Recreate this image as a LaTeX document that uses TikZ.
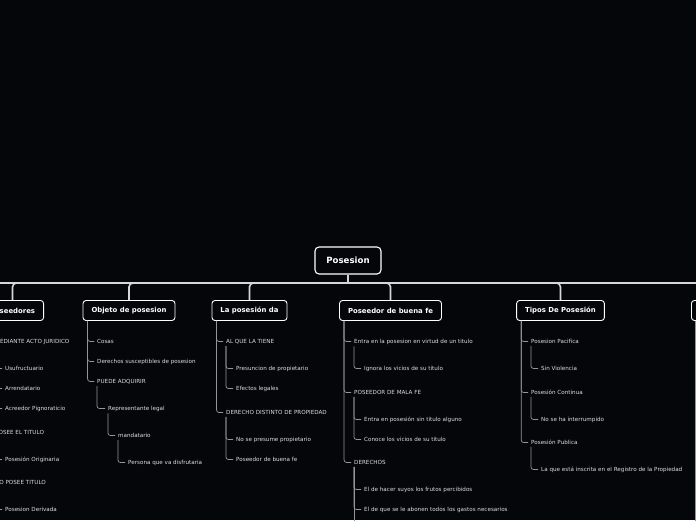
\documentclass[tikz,border=0pt]{standalone}
\usepackage{fontspec}
\setmainfont{DejaVu Sans}
\usetikzlibrary{calc,positioning}
\definecolor{mmbg}{RGB}{5,6,9}
\definecolor{mmtrunk}{RGB}{215,215,215}
\definecolor{mmtwig}{RGB}{150,150,150}
\definecolor{mmtext}{RGB}{222,222,222}

\begin{document}
\begin{tikzpicture}[x=1pt,y=-1pt,
  rootbox/.style={draw=white,fill=mmbg,line width=1.1pt,rounded corners=4pt,text=white,
    font=\fontsize{8.6}{10}\selectfont\bfseries,minimum width=66pt,minimum height=27pt,inner sep=0pt},
  topic/.style={draw=white,fill=mmbg,line width=0.9pt,rounded corners=3pt,text=white,
    font=\fontsize{6.9}{8}\selectfont\bfseries,minimum height=20pt,inner xsep=8.5pt,inner ysep=0pt},
  leaf/.style={anchor=west,inner sep=1pt,text=mmtext,font=\fontsize{5.62}{6.5}\selectfont},
  trunk/.style={draw=mmtrunk,line width=1.6pt,rounded corners=4pt},
  twig/.style={draw=mmtwig,line width=0.7pt,rounded corners=2.5pt,shorten >=2pt}
]
  \useasboundingbox (0,0) rectangle (696,520);
  \fill[mmbg] (0,0) rectangle (696,520);
  \clip (0,0) rectangle (696,520);

  % Main topic and branches
  \node[rootbox] (pos) at (348,260.5) {Posesion};
  \node[topic] (poseed) at (12.5,310.5) {Poseedores};
  \node[topic] (objeto) at (129,310.5) {Objeto de posesion};
  \node[topic] (lapos) at (249.5,310.5) {La posesión da};
  \node[topic] (buena) at (390.5,310.5) {Poseedor de buena fe};
  \node[topic] (tipos) at (560.5,310.5) {Tipos De Posesión};
  \node[topic,anchor=west,minimum width=70pt] (extra) at (691,310.5) {};

  % Poseedores
  \node[leaf] (poseed1) at (-6,341.5) {MEDIANTE ACTO JURIDICO};
  \node[leaf] (poseed11) at (4,368.5) {Usufructuario};
  \node[leaf] (poseed12) at (4,388.5) {Arrendatario};
  \node[leaf] (poseed13) at (4,408.5) {Acreedor Pignoraticio};
  \node[leaf] (poseed2) at (-6,432.5) {POSEE EL TITULO};
  \node[leaf] (poseed21) at (4,459.5) {Posesión Originaria};
  \node[leaf] (poseed3) at (-6,482.5) {NO POSEE TITULO};
  \node[leaf] (poseed31) at (4,509.5) {Posesion Derivada};

  % Objeto de posesion
  \node[leaf] (objeto1) at (96,341.5) {Cosas};
  \node[leaf] (objeto2) at (96,361.5) {Derechos susceptibles de posesion};
  \node[leaf] (objeto3) at (96,381.5) {PUEDE ADQUIRIR};
  \node[leaf] (objeto31) at (107,408.5) {Representante legal};
  \node[leaf] (objeto311) at (117,435.5) {mandatario};
  \node[leaf] (objeto3111) at (127,462.5) {Persona que va disfrutaria};

  % La posesion da
  \node[leaf] (lapos1) at (225,341.5) {AL QUE LA TIENE};
  \node[leaf] (lapos11) at (235,368.5) {Presuncion de propietario};
  \node[leaf] (lapos12) at (235,388.5) {Efectos legales};
  \node[leaf] (lapos2) at (225,412.5) {DERECHO DISTINTO DE PROPIEDAD};
  \node[leaf] (lapos21) at (235,439.5) {No se presume propietario};
  \node[leaf] (lapos22) at (235,459.5) {Poseedor de buena fe};

  % Poseedor de buena fe
  \node[leaf] (buena1) at (353,341.5) {Entra en la posesion en virtud de un titulo};
  \node[leaf] (buena11) at (363,368.5) {Ignora los vicios de su titulo};
  \node[leaf] (buena2) at (353,392.5) {POSEEDOR DE MALA FE};
  \node[leaf] (buena21) at (363,419.5) {Entra en posesión sin titulo alguno};
  \node[leaf] (buena22) at (363,439.5) {Conoce los vicios de su titulo};
  \node[leaf] (buena3) at (353,462.5) {DERECHOS};
  \node[leaf] (buena31) at (363,489.5) {El de hacer suyos los frutos percibidos};
  \node[leaf] (buena32) at (363,509.5) {El de que se le abonen todos los gastos necesarios};

  % Tipos de posesion
  \node[leaf] (tipos1) at (530,341.5) {Posesion Pacifica};
  \node[leaf] (tipos11) at (540,368.5) {Sin Violencia};
  \node[leaf] (tipos2) at (530,392.5) {Posesión Continua};
  \node[leaf] (tipos21) at (540,419.5) {No se ha interrumpido};
  \node[leaf] (tipos3) at (530,442.5) {Posesión Publica};
  \node[leaf] (tipos31) at (540,469.5) {La que está inscrita en el Registro de la Propiedad};

  % Trunk lines
  \coordinate (hub) at (348,283);
  \coordinate (offleft) at (-80,283);
  \draw[trunk] (pos.south) -- (hub);
  \draw[trunk] (hub) -- (offleft);
  \foreach \t in {poseed,objeto,lapos,buena,tipos,extra}
    \draw[trunk] (hub) -| (\t.north);

  % First level twigs
  \foreach \t/\c in {poseed/poseed1,poseed/poseed2,poseed/poseed3,
      objeto/objeto1,objeto/objeto2,objeto/objeto3,
      lapos/lapos1,lapos/lapos2,
      buena/buena1,buena/buena2,buena/buena3,
      tipos/tipos1,tipos/tipos2,tipos/tipos3}
    \draw[twig] ($(\t.south west)+(5,0)$) |- (\c.west);

  % Deeper twigs
  \foreach \p/\c in {poseed1/poseed11,poseed1/poseed12,poseed1/poseed13,
      poseed2/poseed21,poseed3/poseed31,
      objeto3/objeto31,objeto31/objeto311,objeto311/objeto3111,
      lapos1/lapos11,lapos1/lapos12,lapos2/lapos21,lapos2/lapos22,
      buena1/buena11,buena2/buena21,buena2/buena22,buena3/buena31,buena3/buena32,
      tipos1/tipos11,tipos2/tipos21,tipos3/tipos31}
    \draw[twig] ($(\p.south west)+(1,1)$) |- (\c.west);

  % Lines running on past the bottom edge
  \coordinate (buenaend) at ($(buena3.south west)+(1,80)$);
  \draw[twig] ($(buena3.south west)+(1,1)$) -- (buenaend);
  \coordinate (extraend) at ($(extra.south west)+(4,220)$);
  \draw[twig] ($(extra.south west)+(4,0)$) -- (extraend);
\end{tikzpicture}
\end{document}
